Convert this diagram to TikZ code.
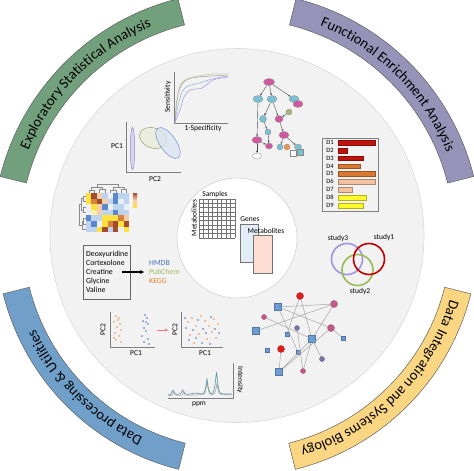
\documentclass[tikz,border=0pt]{standalone}
\usepackage{fontspec}
\setmainfont{Carlito}
\usetikzlibrary{decorations.text,arrows.meta,shapes.geometric}
\definecolor{bgreen}{RGB}{114,160,124}
\definecolor{bpurple}{RGB}{150,146,184}
\definecolor{bblue}{RGB}{112,160,202}
\definecolor{byellow}{RGB}{250,214,130}
\definecolor{bedge}{RGB}{95,95,95}
\definecolor{ringfill}{RGB}{242,242,242}
\definecolor{ringedge}{RGB}{218,218,218}
\definecolor{axisgrey}{RGB}{125,125,125}
\definecolor{dagmag}{RGB}{208,88,160}
\definecolor{dagcyan}{RGB}{122,192,212}
\definecolor{dagolive}{RGB}{170,180,120}
\definecolor{dagorange}{RGB}{236,150,80}
\definecolor{netblue}{RGB}{108,156,212}
\definecolor{netred}{RGB}{224,30,30}
\definecolor{netmag}{RGB}{196,88,140}
\definecolor{netpurple}{RGB}{120,118,170}
\definecolor{bardark}{RGB}{192,20,10}
\definecolor{barorange}{RGB}{216,120,50}
\definecolor{barpeach}{RGB}{244,194,160}
\definecolor{baryellow}{RGB}{255,250,40}
\definecolor{vpurple}{RGB}{160,150,220}
\definecolor{vred}{RGB}{192,0,0}
\definecolor{vgreen}{RGB}{155,187,89}
\definecolor{dborange}{RGB}{237,125,49}
\definecolor{dbblue}{RGB}{68,114,196}
\definecolor{dbgreen}{RGB}{155,187,89}
\definecolor{ptorange}{RGB}{232,140,70}
\definecolor{ptblue}{RGB}{70,110,190}
\definecolor{spec}{RGB}{80,150,165}
\definecolor{hmy}{RGB}{255,224,60}
\definecolor{hmly}{RGB}{255,240,170}
\definecolor{hmo}{RGB}{215,130,60}
\definecolor{hmr}{RGB}{165,75,45}
\definecolor{hmp}{RGB}{248,205,170}
\definecolor{hmb}{RGB}{90,135,205}
\definecolor{hmlb}{RGB}{190,212,238}
\definecolor{hmw}{RGB}{235,240,248}
\newcommand{\bandfont}{\fontsize{14.5}{15}\selectfont}
\begin{document}
\begin{tikzpicture}[x=1pt,y=-1pt,font=\fontsize{7.5}{8}\selectfont,
  band/.style={draw=bedge,line width=0.5pt},
  bandtext/.style={decorate,decoration={text along path,text align=center,text={|\bandfont|#1}}},
  axis/.style={draw=axisgrey,line width=0.6pt},
  lbl/.style={inner sep=0pt,font=\fontsize{7.5}{8}\selectfont},
  gridline/.style={draw=black!55,line width=0.35pt},
  dendro/.style={draw=black!45,line width=0.3pt},
  dagnode/.style={ellipse,draw=black!45,line width=0.3pt,inner sep=0pt,minimum width=#1},
  dagarrow/.style={-{Stealth[length=2.2pt,width=2pt]},draw=black!70,line width=0.4pt},
  netedge/.style={draw=black!35,line width=0.5pt},
  nsq/.style={rectangle,fill=netblue,draw=netblue!75!black,line width=0.3pt,minimum size=7pt,inner sep=0pt},
  nssq/.style={rectangle,fill=netblue,draw=netblue!75!black,line width=0.3pt,minimum size=4pt,inner sep=0pt},
  ncirc/.style={circle,fill=#1,draw=#1!75!black,line width=0.3pt,minimum size=7pt,inner sep=0pt},
  nscirc/.style={circle,fill=#1,draw=#1!75!black,line width=0.3pt,minimum size=5pt,inner sep=0pt},
  bar/.style={draw=#1!70!black,fill=#1,line width=0.4pt}]
\useasboundingbox (0,0) rectangle (474,471);
\fill[white] (0,0) rectangle (474,471);

% rings
\draw[draw=ringedge,fill=ringfill,line width=0.6pt] (237,235.5) circle[radius=187];
\draw[draw=black!20,fill=white,line width=0.5pt] (237,238) circle[radius=60];

% bands
\begin{scope}[shift={(237,235.5)},y=1pt]
  \draw[band,fill=bgreen] (166:244) arc[start angle=166,end angle=104,radius=244] -- (104:217) arc[start angle=104,end angle=166,radius=217] -- cycle;
  \draw[band,fill=bpurple] (76:244) arc[start angle=76,end angle=14,radius=244] -- (14:217) arc[start angle=14,end angle=76,radius=217] -- cycle;
  \draw[band,fill=bblue] (256:241) arc[start angle=256,end angle=194,radius=241] -- (194:214) arc[start angle=194,end angle=256,radius=214] -- cycle;
  \draw[band,fill=byellow] (346:241) arc[start angle=346,end angle=284,radius=241] -- (284:214) arc[start angle=284,end angle=346,radius=214] -- cycle;
  \path[bandtext={Exploratory Statistical Analysis}] (166:225.5) arc[start angle=166,end angle=104,radius=225.5];
  \path[bandtext={Functional Enrichment Analysis}] (76:225.5) arc[start angle=76,end angle=14,radius=225.5];
  \path[bandtext={Data processing {\&} Utilities}] (256:222.5) arc[start angle=256,end angle=194,radius=222.5];
  \path[bandtext={Data Integration and Systems Biology}] (346:222.5) arc[start angle=346,end angle=284,radius=222.5];
\end{scope}

% ---------- ROC plot
\draw[axis] (174,72) -- (174,123) -- (228,123);
\node[lbl,rotate=90] (sens) at (168,97) {Sensitivity};
\node[lbl] (spec1) at (203,129) {1-Specificity};
\draw[black!40,line width=0.5pt] plot[smooth,tension=0.5] coordinates {(175,122) (176,108) (178,94) (182,84) (188,79) (198,77) (212,76) (228,75)};
\draw[dagolive!80,line width=0.5pt] plot[smooth,tension=0.5] coordinates {(175,122) (177,100) (180,86) (185,80) (198,76) (214,74) (228,74)};
\draw[dbblue!60,line width=0.5pt] plot[smooth,tension=0.5] coordinates {(175,122) (178,106) (182,92) (188,86) (200,83) (212,79) (228,76)};
\draw[vpurple,line width=0.5pt] plot[smooth,tension=0.5] coordinates {(175,122) (180,110) (184,97) (190,90) (202,88) (213,80) (228,77)};

% ---------- PCA ellipses
\draw[axis] (126,122) -- (126,172) -- (181,172);
\node[lbl] (pc1a) at (117,146) {PC1};
\node[lbl] (pc2a) at (155,179) {PC2};
\draw[draw=vpurple!90!black,fill=vpurple!40,line width=0.5pt] (132.5,148.5) ellipse[x radius=2.2,y radius=21];
\draw[draw=dagolive!90!black,fill=dagolive!25,line width=0.5pt,rotate around={-20:(153,138)}] (153,138) ellipse[x radius=14,y radius=10];
\draw[draw=dbblue!80,fill=dbblue!20,fill opacity=0.7,line width=0.5pt,rotate around={-55:(168,143)}] (168,143) ellipse[x radius=18,y radius=8];

% ---------- heatmap
\foreach \row [count=\j from 0] in {
  {hmy,hmr,hmp,hmlb,hmw,hmb,hmlb,hmlb},
  {hmy,hmo,hmr,hmp,hmlb,hmb,hmw,hmlb},
  {hmw,hmy,hmp,hmb,hmw,hmlb,hmlb,hmw},
  {hmw,hmly,hmp,hmlb,hmlb,hmb,hmlb,hmlb},
  {hmb,hmlb,hmlb,hmy,hmy,hmy,hmo,hmp},
  {hmlb,hmb,hmw,hmy,hmo,hmr,hmy,hmr},
  {hmlb,hmlb,hmy,hmr,hmlb,hmr,hmw,hmy}} {
  \foreach \c [count=\i from 0] in \row {
    \fill[\c] ({86+\i*5.4},{193+\j*5.6}) rectangle ++(5.4,5.6);
  }
}
\draw[dendro] (88.7,193) |- (94.1,190) -- (94.1,193);
\draw[dendro] (99.5,193) |- (104.9,189.5) -- (104.9,193);
\draw[dendro] (91.4,190) |- (102.2,187) -- (102.2,189.5);
\draw[dendro] (110.3,193) |- (115.7,190) -- (115.7,193);
\draw[dendro] (121.1,193) |- (126.5,189) -- (126.5,193);
\draw[dendro] (113,190) |- (123.8,187.5) -- (123.8,189);
\draw[dendro] (96.8,187) |- (118.4,184) -- (118.4,187.5);
\draw[dendro] (86,195.8) -| (83,201.4) -- (86,201.4);
\draw[dendro] (86,207) -| (83.5,212.6) -- (86,212.6);
\draw[dendro] (83,198.6) -| (81.5,209.8) -- (83.5,209.8);
\draw[dendro] (86,218.2) -| (83,223.8) -- (86,223.8);
\draw[dendro] (83,221) -| (82,229.4) -- (86,229.4);
\draw[dendro] (81.5,204.2) -| (79.5,225.2) -- (82,225.2);
\shade[top color=hmr,bottom color=hmy,middle color=hmp] (133,193) rectangle (137,207);

% ---------- metabolite list
\node[draw=black!60,line width=0.6pt,minimum width=47pt,minimum height=54pt,inner sep=0pt] (listbox) at (106.5,272) {};
\node[lbl,anchor=west,font=\fontsize{7.8}{9}\selectfont] (m1) at (86,254) {Deoxyuridine};
\node[lbl,anchor=west,font=\fontsize{7.8}{9}\selectfont] (m2) at (86,263) {Cortexolone};
\node[lbl,anchor=west,font=\fontsize{7.8}{9}\selectfont] (m3) at (86,272) {Creatine};
\node[lbl,anchor=west,font=\fontsize{7.8}{9}\selectfont] (m4) at (86,281) {Glycine};
\node[lbl,anchor=west,font=\fontsize{7.8}{9}\selectfont] (m5) at (86,290) {Valine};
\node[lbl,anchor=west,text=dbblue,font=\fontsize{7.8}{9}\selectfont] (hmdb) at (149,263) {HMDB};
\node[lbl,anchor=west,text=dbgreen,font=\fontsize{7.8}{9}\selectfont] (pubchem) at (149,272) {PubChem};
\node[lbl,anchor=west,text=dborange,font=\fontsize{7.8}{9}\selectfont] (kegg) at (149,281) {KEGG};
\coordinate (arrS) at (122,272);
\coordinate (arrE) at (144,272);
\draw[-{Stealth[length=4pt,width=4pt]},line width=1.2pt] (arrS) -- (arrE);

% ---------- batch PCA plots
\draw[axis] (110,312) -- (110,347) -- (155,347);
\node[lbl,rotate=90] (pc2b) at (103,330) {PC2};
\node[lbl] (pc1b) at (136,353) {PC1};
\foreach \p in {(116,316),(119,318),(114,322),(120,324),(117,327),(121,330),(115,333),(119,336),(116,340),(121,342),(118,320),(114,338)}
  \fill[ptorange] \p circle[radius=0.9];
\foreach \p in {(145,315),(147,318),(143,321),(148,324),(144,328),(146,331),(142,336),(148,339),(144,342),(149,344),(146,322)}
  \fill[ptblue] \p circle[radius=0.9];
\coordinate (barrS) at (157,330);
\coordinate (barrE) at (168,330);
\draw[-{Stealth[length=3pt,width=3pt]},draw=netred!60,line width=0.6pt] (barrS) -- (barrE);
\draw[axis] (181,312) -- (181,347) -- (223,347);
\node[lbl,rotate=90] (pc2c) at (175,330) {PC2};
\node[lbl] (pc1c) at (205,353) {PC1};
\foreach \p in {(188,322),(192,318),(196,326),(201,316),(205,321),(209,326),(214,319),(218,324),(190,335),(199,334),(207,339),(212,332),(216,338),(194,343)}
  \fill[ptorange] \p circle[radius=0.9];
\foreach \p in {(186,328),(193,330),(198,320),(203,329),(206,333),(211,317),(215,329),(189,340),(196,338),(202,343),(210,344),(219,333),(185,318)}
  \fill[ptblue] \p circle[radius=0.9];

% ---------- spectrum
\draw[axis] (168,398) -- (233,398) -- (233,363);
\node[lbl] (ppm) at (199,404) {ppm};
\node[lbl,rotate=-90] (inten) at (240,380) {Intensity};
\draw[spec,line width=0.6pt] plot[smooth,tension=0.4] coordinates {(168,395) (171,394) (173,390) (175,394) (180,394) (183,390) (185,394) (190,394) (196,393) (201,394) (204,393) (206,386) (207,379) (208,386) (210,393) (213,393) (215,385) (216.5,373) (218,385) (220,393) (226,394) (232,394)};
\draw[black!45,line width=0.4pt] plot[smooth,tension=0.4] coordinates {(168,396) (172,395) (174,392) (176,395) (182,395) (184,392) (186,395) (195,395) (204,394) (206,388) (207,383) (208,388) (210,394) (214,394) (216,389) (217,383) (218,389) (220,394) (232,395)};

% ---------- inner circle: matrices
\foreach \i in {0,...,8} \draw[gridline] ({199+\i*4.5},199) -- ({199+\i*4.5},238);
\foreach \j in {0,...,9} \draw[gridline] (199,{199+\j*4.333}) -- (235,{199+\j*4.333});
\node[lbl] (samples) at (215,194) {Samples};
\node[lbl,rotate=90] (metab1) at (194,218) {Metabolites};
\node[draw=black!55,fill=hmlb!45,line width=0.5pt,minimum width=18pt,minimum height=38pt,inner sep=0pt] (genes) at (249,243) {};
\node[draw=black!55,fill=hmp!50!pink!60,line width=0.5pt,minimum width=19pt,minimum height=38pt,inner sep=0pt] (metabr) at (262.5,254) {};
\node[lbl] (geneslbl) at (250,219) {Genes};
\node[lbl] (metab2) at (266,231) {Metabolites};

% ---------- DAG
\node[dagnode=11pt,minimum height=7pt,fill=dagmag] (d1) at (269,82) {};
\node[dagnode=10pt,minimum height=7pt,fill=dagcyan] (d2) at (258,99) {};
\node[dagnode=10pt,minimum height=7pt,fill=dagcyan] (d3) at (272,99) {};
\node[dagnode=10pt,minimum height=7pt,fill=dagcyan] (d4) at (294,99) {};
\node[dagnode=10pt,minimum height=7pt,fill=dagmag] (d5) at (298,104) {};
\node[dagnode=7pt,minimum height=7pt,fill=dagcyan] (d6) at (263,119) {};
\node[dagnode=8pt,minimum height=7pt,fill=dagmag] (d7) at (279,119) {};
\node[dagnode=6pt,minimum height=6pt,fill=dagolive] (d8) at (289,112) {};
\node[dagnode=6pt,minimum height=6pt,fill=dagcyan] (d9) at (268,132) {};
\node[dagnode=10pt,minimum height=7pt,fill=dagmag] (d10) at (257,140) {};
\node[dagnode=7pt,minimum height=6pt,fill=dagmag] (d11) at (269,146) {};
\node[dagnode=10pt,minimum height=7pt,fill=dagmag] (d12) at (284,135) {};
\node[dagnode=9pt,minimum height=6pt,fill=white] (d13) at (257,156) {};
\node[dagnode=6pt,minimum height=6pt,fill=dagcyan] (d14) at (280,147) {};
\node[dagnode=6pt,minimum height=6pt,fill=dagorange] (d15) at (287,147) {};
\node[dagnode=7pt,minimum height=6pt,fill=dagcyan] (d16) at (298,147) {};
\node[rectangle,draw=black!45,fill=white,line width=0.3pt,minimum size=6pt,inner sep=0pt] (d17) at (293,153) {};
\node[rectangle,draw=black!45,fill=dagcyan,line width=0.3pt,minimum size=6pt,inner sep=0pt] (d18) at (300,152) {};
\draw[dagarrow] (d1) -- (d2);
\draw[dagarrow] (d1) -- (d3);
\draw[dagarrow] (d1) -- (d4);
\draw[dagarrow] (d2) -- (d10);
\draw[dagarrow] (d3) -- (d6);
\draw[dagarrow] (d3) -- (d7);
\draw[dagarrow] (d6) -- (d9);
\draw[dagarrow] (d9) -- (d11);
\draw[dagarrow] (d10) -- (d11);
\draw[dagarrow] (d10) -- (d13);
\draw[dagarrow] (d8) -- (d7);
\draw[dagarrow] (d7) -- (d12);
\draw[dagarrow] (d12) -- (d14);
\draw[dagarrow] (d12) -- (d16);

% ---------- bar chart
\node[draw=black!50,line width=0.5pt,minimum width=56pt,minimum height=73pt,inner sep=0pt] (barbox) at (350,174.5) {};
\foreach \lab/\len/\col [count=\k from 0] in {D1/375/bardark,D2/347/bardark,D3/363/bardark,D4/360/barorange,D5/375/barorange,D6/375/barpeach,D7/352/barpeach,D8/366/baryellow,D9/363/baryellow} {
  \node[lbl,font=\fontsize{6.5}{7}\selectfont] at (330,{142.3+\k*7.9}) {\lab};
  \draw[bar=\col] (338,{140+\k*7.9}) rectangle (\len,{144.8+\k*7.9});
}

% ---------- Venn
\draw[vpurple,line width=1.6pt] (347,259) circle[radius=15.5];
\draw[vgreen,line width=1.6pt] (357.5,270) circle[radius=15.5];
\draw[vred,line width=1.6pt] (369,259) circle[radius=15.5];
\node[lbl] (st3) at (338,238) {study3};
\node[lbl] (st1) at (384,237) {study1};
\node[lbl] (st2) at (360,291) {study2};

% ---------- network
\node[ncirc=netred] (n1) at (300,296) {};
\node[ncirc=netmag] (n2) at (334,304) {};
\node[nsq] (n3) at (278,307) {};
\node[nscirc=netmag] (n4) at (264,317) {};
\node[ncirc=netmag] (n5) at (331,328) {};
\node[nsq] (n6) at (256,331) {};
\node[nssq] (n7) at (287,334) {};
\node[nscirc=netpurple] (n8) at (297,328) {};
\node[nsq] (n9) at (312,339) {};
\node[nssq] (n10) at (343,338) {};
\node[nssq] (n11) at (267,350) {};
\node[ncirc=netred] (n12) at (281,349) {};
\node[nssq] (n13) at (298,352) {};
\node[nscirc=netpurple] (n14) at (322,359) {};
\node[nsq] (n15) at (279,372) {};
\node[nscirc=netmag] (n16) at (303,371) {};
\foreach \a/\b in {n3/n2,n3/n5,n3/n13,n1/n7,n1/n9,n6/n2,n4/n9,n8/n16,n2/n9,n5/n15,n5/n10,n9/n14,n9/n16,n12/n15,n9/n15}
  \draw[netedge] (\a) -- (\b);
\end{tikzpicture}
\end{document}
